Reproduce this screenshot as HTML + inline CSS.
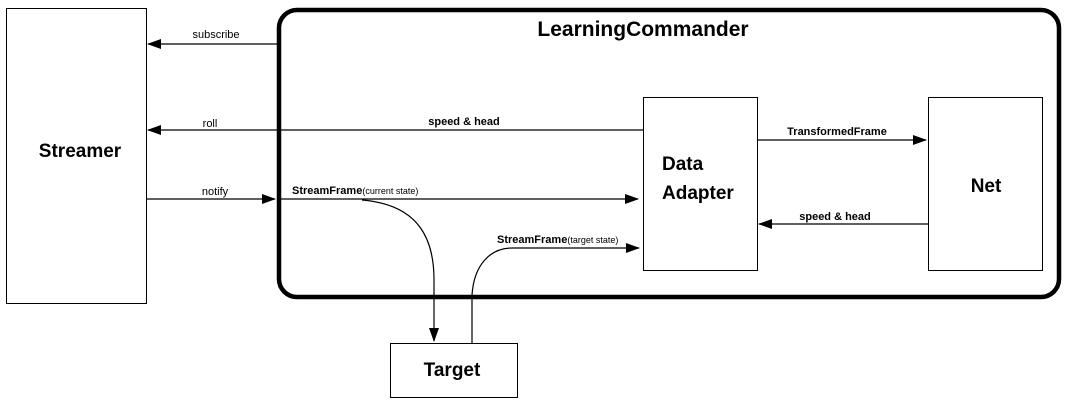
<!DOCTYPE html>
<html><head><style>
body{margin:0;background:#fff;}
svg{display:block;font-family:"Liberation Sans",sans-serif;}
</style></head><body>
<svg width="1072" height="408" viewBox="0 0 1072 408">
<defs>
<marker id="a" markerWidth="14" markerHeight="10" refX="13" refY="5" orient="auto" markerUnits="userSpaceOnUse">
<path d="M0,0 L14,5 L0,10 Z" fill="#000"/></marker>
</defs>
<rect x="6.5" y="8.5" width="140" height="295" fill="#fff" stroke="#000"/>
<text x="80" y="157" font-size="19" font-weight="bold" text-anchor="middle">Streamer</text>
<rect x="279" y="10" width="780" height="287" rx="18" fill="none" stroke="#000" stroke-width="4.5"/>
<text x="643" y="36" font-size="21" font-weight="bold" text-anchor="middle">LearningCommander</text>
<rect x="643.5" y="97.5" width="114" height="173" fill="#fff" stroke="#000"/>
<text x="662" y="170" font-size="19" font-weight="bold">Data</text>
<text x="662" y="199" font-size="19" font-weight="bold">Adapter</text>
<rect x="928.5" y="97.5" width="114" height="173" fill="#fff" stroke="#000"/>
<text x="986" y="192" font-size="19" font-weight="bold" text-anchor="middle">Net</text>
<rect x="390.5" y="343.5" width="127" height="54" fill="#fff" stroke="#000"/>
<text x="452" y="376" font-size="19" font-weight="bold" text-anchor="middle">Target</text>
<g stroke="#000" stroke-width="1.2" fill="none">
<line x1="278" y1="44" x2="148" y2="44" marker-end="url(#a)"/>
<line x1="643" y1="130" x2="148" y2="130" marker-end="url(#a)"/>
<line x1="146" y1="199" x2="275" y2="199" marker-end="url(#a)"/>
<line x1="281" y1="199" x2="638" y2="199" marker-end="url(#a)"/>
<line x1="512" y1="248" x2="639" y2="248" marker-end="url(#a)"/>
<path d="M362,200 C420,205 434,240 434,280 L434,341" marker-end="url(#a)"/>
<path d="M472,343 L472,295 C474,265 490,248 512,248"/>
<line x1="757" y1="140" x2="926" y2="140" marker-end="url(#a)"/>
<line x1="928" y1="224" x2="759" y2="224" marker-end="url(#a)"/>
</g>
<g font-size="11">
<text x="216" y="38" text-anchor="middle">subscribe</text>
<text x="210" y="127" text-anchor="middle">roll</text>
<text x="215" y="195" text-anchor="middle">notify</text>
<text x="464" y="125" text-anchor="middle" font-weight="bold">speed &amp; head</text>
<text x="292" y="194" font-weight="bold">StreamFrame<tspan font-weight="normal" font-size="9">(current state)</tspan></text>
<text x="497" y="243" font-weight="bold">StreamFrame<tspan font-weight="normal" font-size="9">(target state)</tspan></text>
<text x="837" y="135" text-anchor="middle" font-weight="bold">TransformedFrame</text>
<text x="835" y="220" text-anchor="middle" font-weight="bold">speed &amp; head</text>
</g>
</svg>
</body></html>
